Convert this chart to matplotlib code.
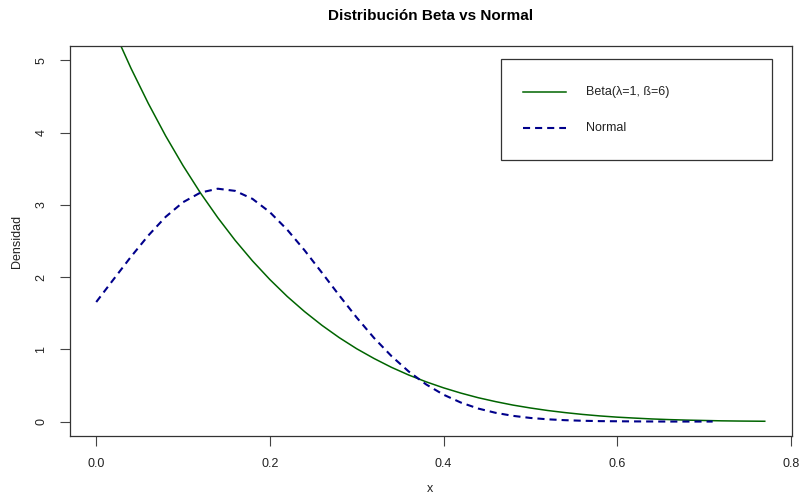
import matplotlib
matplotlib.use("Agg")
import matplotlib.pyplot as plt
from matplotlib.lines import Line2D
from matplotlib.patches import Rectangle

plt.rcParams['font.family'] = ['Liberation Sans', 'DejaVu Sans']

# Beta(1, 6) density curve
x_beta = [0.00, 0.02, 0.04, 0.06, 0.08, 0.10, 0.12, 0.14, 0.16, 0.18,
          0.20, 0.22, 0.24, 0.26, 0.28, 0.30, 0.32, 0.34, 0.36, 0.38,
          0.40, 0.42, 0.44, 0.46, 0.48, 0.50, 0.52, 0.54, 0.56, 0.58,
          0.60, 0.62, 0.64, 0.66, 0.68, 0.70, 0.72, 0.74, 0.76, 0.77]
y_beta = [6.000, 5.424, 4.892, 4.404, 3.954, 3.543, 3.166, 2.823, 2.509, 2.224,
          1.966, 1.732, 1.522, 1.332, 1.161, 1.008, 0.873, 0.751, 0.644, 0.550,
          0.467, 0.394, 0.330, 0.276, 0.228, 0.188, 0.153, 0.124, 0.099, 0.078,
          0.061, 0.048, 0.036, 0.027, 0.020, 0.015, 0.010, 0.007, 0.005, 0.004]

# Normal approximation curve
x_norm = [0.00, 0.02, 0.04, 0.06, 0.08, 0.10, 0.12, 0.14, 0.16, 0.18,
          0.20, 0.22, 0.24, 0.26, 0.28, 0.30, 0.32, 0.34, 0.36, 0.38,
          0.40, 0.42, 0.44, 0.46, 0.48, 0.50, 0.52, 0.54, 0.56, 0.58,
          0.60, 0.62, 0.64, 0.66, 0.68, 0.70, 0.71]
y_norm = [1.655, 1.970, 2.282, 2.576, 2.835, 3.037, 3.170, 3.224, 3.194, 3.083,
          2.899, 2.656, 2.370, 2.060, 1.745, 1.440, 1.157, 0.907, 0.692, 0.514,
          0.372, 0.263, 0.180, 0.121, 0.079, 0.050, 0.031, 0.019, 0.011, 0.006,
          0.004, 0.002, 0.001, 0.000, 0.000, 0.000, 0.000]

x_ticks = [0.0, 0.2, 0.4, 0.6, 0.8]
x_tick_labels = ["0.0", "0.2", "0.4", "0.6", "0.8"]
y_ticks = [0, 1, 2, 3, 4, 5]
y_tick_labels = ["0", "1", "2", "3", "4", "5"]

labels = ["Beta(\u03bb=1, \u00df=6)", "Normal"]
title = "Distribución Beta vs Normal"

W, H = 800, 495
fig = plt.figure(figsize=(W / 100, H / 100), dpi=100)

def fx(px):
    return px / W

def fy(py):
    return 1 - py / H

left, right, top, bottom = 69.5, 791.5, 46, 436
ax = fig.add_axes([fx(left), fy(bottom), fx(right) - fx(left), fy(top) - fy(bottom)])

green = "#006400"
blue = "#00008B"
lw_beta = 1.1
lw_norm = 1.5
dash = (0, (3.4, 2.4))

ax.plot(x_beta, y_beta, color=green, lw=lw_beta)
ax.plot(x_norm, y_norm, color=blue, lw=lw_norm, linestyle=dash)

ax.set_xlim(-0.0308, 0.8008)
ax.set_ylim(-0.2, 5.2)

ax.set_xticks(x_ticks)
ax.set_xticklabels(x_tick_labels)
ax.set_yticks(y_ticks)
ax.set_yticklabels(y_tick_labels, rotation=90, va='center')
ax.tick_params(axis='both', direction='out', length=7, width=0.8,
               color='#444444', labelsize=9, labelcolor='#222222')
ax.tick_params(axis='x', pad=9)
ax.tick_params(axis='y', pad=9)
for s in ax.spines.values():
    s.set_color('#333333')
    s.set_linewidth(0.9)

fig.text(fx((left + right) / 2), fy(16), title, ha='center', va='center',
         fontsize=11, fontweight='bold', color='black')
fig.text(fx(430), fy(489), "x", ha='center', va='center', fontsize=9, color='#222222')
fig.text(fx(17), fy(241), "Densidad", ha='center', va='center', rotation=90,
         fontsize=9, color='#222222')

# legend box
lx0, ly0, lx1, ly1 = 501, 59, 771.5, 160
fig.add_artist(Rectangle((fx(lx0), fy(ly1)), fx(lx1) - fx(lx0), fy(ly0) - fy(ly1),
                         transform=fig.transFigure, fill=False,
                         edgecolor='#333333', linewidth=0.9))
rows = [(92, green, '-', lw_beta), (128, blue, dash, lw_norm)]
for (ry, col, ls, lw), lab in zip(rows, labels):
    fig.add_artist(Line2D([fx(523), fx(566)], [fy(ry), fy(ry)],
                          transform=fig.transFigure, color=col, lw=lw, linestyle=ls))
    fig.text(fx(586), fy(ry), lab, ha='left', va='center', fontsize=9, color='#222222')

fig.savefig("out.png", dpi=100)
